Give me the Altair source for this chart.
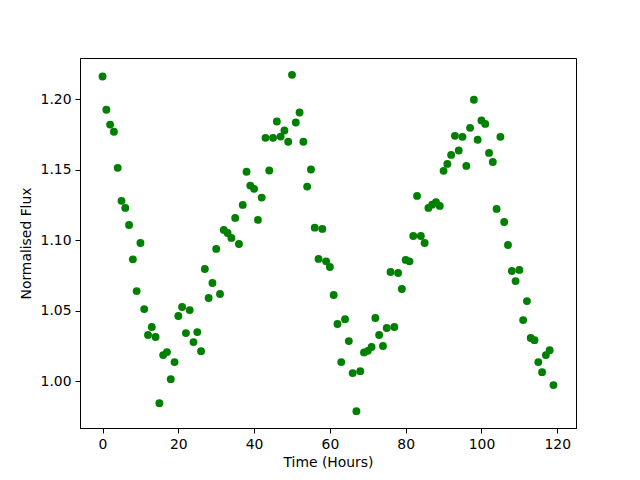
import altair as alt
import pandas as pd

hours = list(range(120))
flux = [
    1.2163, 1.1927, 1.1822, 1.1771, 1.1515, 1.1281, 1.1231, 1.1110, 1.0866, 1.0641,
    1.0982, 1.0513, 1.0329, 1.0386, 1.0315, 0.9846, 1.0187, 1.0208, 1.0016, 1.0137,
    1.0464, 1.0528, 1.0343, 1.0506, 1.0279, 1.0350, 1.0215, 1.0798, 1.0592, 1.0698,
    1.0940, 1.0620, 1.1075, 1.1053, 1.1018, 1.1160, 1.0975, 1.1252, 1.1487, 1.1389,
    1.1366, 1.1146, 1.1304, 1.1728, 1.1496, 1.1728, 1.1844, 1.1737, 1.1780, 1.1700,
    1.2175, 1.1837, 1.1908, 1.1700, 1.1382, 1.1503, 1.1091, 1.0869, 1.1082, 1.0852,
    1.0812, 1.0613, 1.0407, 1.0137, 1.0442, 1.0286, 1.0059, 0.9789, 1.0073, 1.0206,
    1.0217, 1.0244, 1.0450, 1.0329, 1.0251, 1.0379, 1.0776, 1.0386, 1.0769, 1.0656,
    1.0862, 1.0852, 1.1032, 1.1316, 1.1032, 1.0982, 1.1231, 1.1254, 1.1271, 1.1245,
    1.1494, 1.1543, 1.1607, 1.1742, 1.1638, 1.1735, 1.1529, 1.1799, 1.1998, 1.1714,
    1.1851, 1.1827, 1.1621, 1.1557, 1.1224, 1.1735, 1.1131, 1.0968, 1.0783, 1.0712,
    1.0791, 1.0435, 1.0570, 1.0308, 1.0293, 1.0137, 1.0066, 1.0187, 1.0222, 0.9974,
]
x_ticks = [0, 20, 40, 60, 80, 100, 120]
y_ticks = [1.00, 1.05, 1.10, 1.15, 1.20]

df = pd.DataFrame({"Time (Hours)": hours, "Normalised Flux": flux})

xmin, xmax = min(hours), max(hours)
ymin, ymax = min(flux), max(flux)
xm = 0.05 * (xmax - xmin)
ym = 0.05 * (ymax - ymin)

font = "DejaVu Sans"

chart = alt.Chart(df).mark_circle(size=62, color="#008000", opacity=1).encode(
    x=alt.X(
        "Time (Hours):Q",
        scale=alt.Scale(domain=[xmin - xm, xmax + xm], nice=False, zero=False),
        axis=alt.Axis(values=x_ticks, format="d", title="Time (Hours)"),
    ),
    y=alt.Y(
        "Normalised Flux:Q",
        scale=alt.Scale(domain=[ymin - ym, ymax + ym], nice=False, zero=False),
        axis=alt.Axis(values=y_ticks, format=".2f", title="Normalised Flux"),
    ),
).properties(
    width=496,
    height=370,
    autosize=alt.AutoSizeParams(type="none"),
    padding={"left": 72, "top": 50, "right": 56, "bottom": 45},
).configure_view(
    stroke="black", strokeWidth=1
).configure_axis(
    grid=False,
    domainColor="black",
    domainWidth=1,
    tickColor="black",
    tickSize=5,
    tickWidth=1,
    labelFont=font,
    labelFontSize=13.9,
    labelColor="black",
    labelPadding=4,
    titleFont=font,
    titleFontSize=13.9,
    titleFontWeight="normal",
    titleColor="black",
).configure_axisX(
    titlePadding=5,
).configure_axisY(
    titlePadding=7,
)

chart.save("out.html", embed_options={"renderer": "svg", "actions": False})
